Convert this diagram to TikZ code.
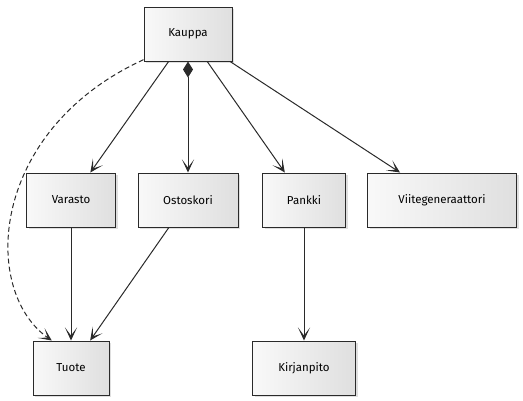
\documentclass[tikz,border=0pt]{standalone}
\usepackage{fontspec}
\setmainfont{Fira Sans}
\usetikzlibrary{arrows.meta, shadows, positioning, calc}
\definecolor{edgegray}{HTML}{2A2A2A}
\tikzset{
	cls/.style={rectangle, draw=edgegray, line width=1pt, left color=white!95!gray, right color=gray!25, minimum height=54pt, inner sep=0pt, font=\fontsize{11.5}{13}\selectfont, drop shadow={opacity=0.25, shadow xshift=2pt, shadow yshift=-2pt}},
	assoc/.style={draw=edgegray, line width=1pt, -{Stealth[length=13pt, width=12pt, inset=8pt]}}
}
\begin{document}
\begin{tikzpicture}[x=1pt, y=-1pt,
		% Style for the composition diamond
		comp/.style={assoc, {Diamond[length=16pt, width=10pt, fill=edgegray]}-{Stealth[length=13pt, width=12pt, inset=8pt]}}
		]
		\useasboundingbox (0,0) rectangle (523,400);
		
		% --- Top class ---
		\node[cls, minimum width=88pt] (kauppa) at (188,34) {Kauppa};
		
		% --- Middle row ---
		\node[cls, minimum width=89pt] (varasto) at (71,200) {Varasto};
		\node[cls, minimum width=100pt] (ostoskori) at (188,200) {Ostoskori};
		\node[cls, minimum width=83pt] (pankki) at (304,200) {Pankki};
		\node[cls, minimum width=149pt] (viite) at (442,200) {Viitegeneraattori};
		
		% --- Bottom row ---
		\node[cls, minimum width=76pt] (tuote) at (71,368) {Tuote};
		\node[cls, minimum width=103pt] (kirjanpito) at (304,368) {Kirjanpito};
		
		% --- Connections from Kauppa ---
		\draw[assoc] (kauppa) -- (varasto);
		\draw[comp] (kauppa) -- (ostoskori);
		\draw[assoc] (kauppa) -- (pankki);
		\draw[assoc] (kauppa) -- (viite);
		\draw[assoc, dash pattern=on 5pt off 3pt] (kauppa.210) .. controls (-10,130) and (-20,290) .. (tuote.125);
		
		% --- Lower connections ---
		\draw[assoc] (varasto) -- (tuote);
		\draw[assoc] (ostoskori) -- (tuote);
		\draw[assoc] (pankki) -- (kirjanpito);
	\end{tikzpicture}
\end{document}
